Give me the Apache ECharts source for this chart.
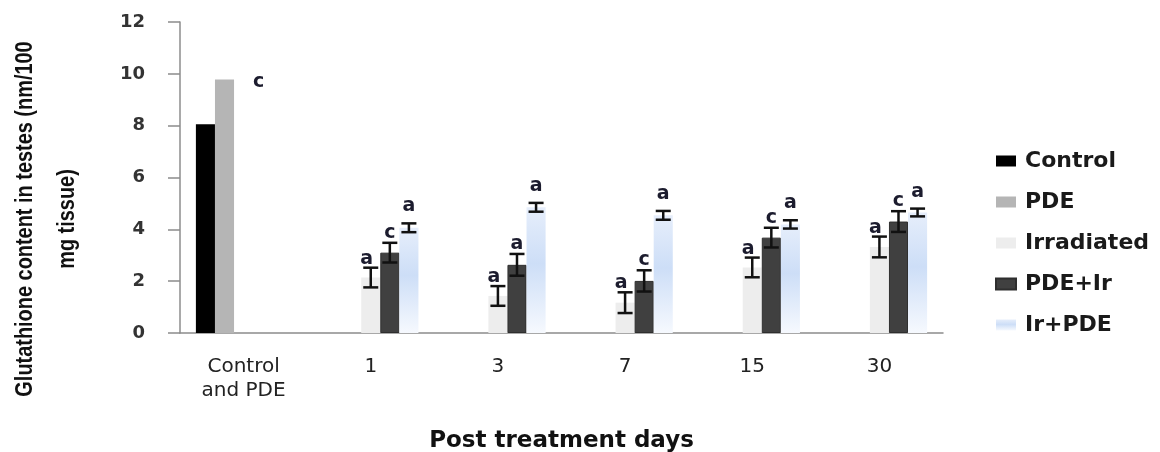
<!DOCTYPE html>
<html>
<head>
<meta charset="utf-8">
<script src="https://cdn.jsdelivr.net/npm/echarts@6/dist/echarts.min.js"></script>
<style>
  html, body { margin: 0; padding: 0; background: #ffffff; }
  #chart { width: 1160px; height: 452px; }
</style>
</head>
<body>
<div id="chart"></div>
<script>
// Glutathione content in testes by group and post-treatment day
const categories = ['Control\nand PDE', '1', '3', '7', '15', '30'];

const controlValues    = [8.05, null, null, null, null, null];
const pdeValues        = [9.78, null, null, null, null, null];
const irradiatedValues = [null, 2.14, 1.43, 1.17, 2.53, 3.32];
const irradiatedErrors = [null, 0.38, 0.38, 0.40, 0.38, 0.40];
const pdeIrValues      = [null, 3.10, 2.63, 2.01, 3.68, 4.30];
const pdeIrErrors      = [null, 0.38, 0.42, 0.41, 0.38, 0.40];
const irPdeValues      = [null, 4.06, 4.85, 4.54, 4.19, 4.65];
const irPdeErrors      = [null, 0.17, 0.17, 0.17, 0.16, 0.15];

// significance letters
const pdeLetters        = ['c', null, null, null, null, null];
const irradiatedLetters = [null, 'a', 'a', 'a', 'a', 'a'];
const pdeIrLetters      = [null, 'c', 'a', 'c', 'c', 'c'];
const irPdeLetters      = [null, 'a', 'a', 'a', 'a', 'a'];

const yTicks = { min: 0, max: 12, interval: 2 };

const SERIES_COUNT = 5;
const BAND_FILL = 0.75; // barCategoryGap 25%

const irPdeFill = new echarts.graphic.LinearGradient(0, 0, 0, 1, [
  { offset: 0, color: '#e6eefb' },
  { offset: 0.45, color: '#cddef7' },
  { offset: 1, color: '#f6f9fe' }
]);

// Error bars and letters drawn on top of the bar in a given slot of the group
function overlay(slot, values, errors, letters, letterDx, letterDy) {
  const rows = [];
  values.forEach((v, i) => {
    if (v == null) return;
    rows.push([i, v, errors ? (errors[i] || 0) : 0, letters ? (letters[i] || '') : '']);
  });
  return {
    type: 'custom',
    silent: true,
    z: 5,
    data: rows.map(r => [r[0], r[1] + r[2], r[1] - r[2]]),
    encode: { x: 0, y: [1, 2] },
    renderItem(params, api) {
      const row = rows[params.dataIndex];
      const idx = row[0], val = row[1], err = row[2], letter = row[3];
      const band = api.size([1, 0])[0];
      const bw = band * BAND_FILL / SERIES_COUNT;
      const base = api.coord([idx, val]);
      const cx = base[0] - band * BAND_FILL / 2 + bw * (slot + 0.5);
      const children = [];
      let yRef = base[1];
      if (err > 0) {
        const yTop = api.coord([idx, val + err])[1];
        const yBot = api.coord([idx, val - err])[1];
        const cap = 7.5;
        const ls = { stroke: '#111111', lineWidth: 2.5 };
        children.push(
          { type: 'line', shape: { x1: cx, y1: yTop, x2: cx, y2: yBot }, style: ls },
          { type: 'line', shape: { x1: cx - cap, y1: yTop, x2: cx + cap, y2: yTop }, style: ls },
          { type: 'line', shape: { x1: cx - cap, y1: yBot, x2: cx + cap, y2: yBot }, style: ls }
        );
        yRef = yTop;
      }
      if (letter) {
        children.push({
          type: 'text',
          x: cx + letterDx, y: yRef + letterDy,
          style: {
            text: letter, fill: '#1c1c2e',
            font: 'bold 19px "DejaVu Sans"',
            align: 'center', verticalAlign: 'middle',
            textAlign: 'center', textVerticalAlign: 'middle'
          }
        });
      }
      return { type: 'group', children };
    }
  };
}

const barBase = { type: 'bar', barGap: '0%', barCategoryGap: '25%' };

const option = {
  animation: false,
  backgroundColor: '#ffffff',
  grid: { left: 180, right: 217, top: 22, bottom: 119, containLabel: false, outerBoundsMode: 'none' },
  legend: {
    orient: 'vertical',
    left: 990, top: 145,
    itemWidth: 20, itemHeight: 11,
    itemGap: 19,
    icon: 'rect',
    selectedMode: false,
    data: ['Control', 'PDE', 'Irradiated', 'PDE+Ir', 'Ir+PDE'],
    textStyle: { fontFamily: 'DejaVu Sans', fontWeight: 'bold', fontSize: 22, color: '#1a1a1a', lineHeight: 22, padding: [0, 0, 0, 4] }
  },
  xAxis: {
    type: 'category',
    data: categories,
    name: 'Post treatment days',
    nameLocation: 'middle',
    nameGap: 97,
    nameTextStyle: { fontFamily: 'DejaVu Sans', fontWeight: 'bold', fontSize: 23, color: '#111111' },
    axisLine: { lineStyle: { color: '#8c8c8c', width: 1.5 } },
    axisTick: { length: 8, lineStyle: { color: '#8c8c8c', width: 1.5 } },
    axisLabel: { margin: 22, fontFamily: 'DejaVu Sans', fontSize: 20, lineHeight: 24, color: '#222222' },
    splitLine: { show: false }
  },
  yAxis: {
    type: 'value',
    min: yTicks.min, max: yTicks.max, interval: yTicks.interval,
    axisLine: { show: true, lineStyle: { color: '#8c8c8c', width: 1.5 } },
    axisTick: { show: true, length: 12, lineStyle: { color: '#8c8c8c', width: 1.5 } },
    axisLabel: { margin: 35, fontFamily: 'DejaVu Sans', fontWeight: 'bold', fontSize: 18, color: '#333333' },
    splitLine: { show: false }
  },
  graphic: [{
    type: 'text',
    x: 46, y: 219,
    rotation: Math.PI / 2,
    scaleX: 0.83,
    style: {
      text: 'Glutathione content in testes (nm/100\nmg tissue)',
      font: 'bold 24px "Liberation Sans"',
      fill: '#111111',
      lineHeight: 42,
      align: 'center', verticalAlign: 'middle',
      textAlign: 'center', textVerticalAlign: 'middle'
    }
  }],
  series: [
    Object.assign({}, barBase, { name: 'Control', data: controlValues, itemStyle: { color: '#000000' } }),
    Object.assign({}, barBase, { name: 'PDE', data: pdeValues, itemStyle: { color: '#b5b5b5' } }),
    Object.assign({}, barBase, { name: 'Irradiated', data: irradiatedValues, itemStyle: { color: '#ededed' } }),
    Object.assign({}, barBase, { name: 'PDE+Ir', data: pdeIrValues, itemStyle: { color: '#404040', borderColor: '#2e2e2e', borderWidth: 1 } }),
    Object.assign({}, barBase, { name: 'Ir+PDE', data: irPdeValues, itemStyle: { color: irPdeFill } }),
    overlay(1, pdeValues, null, pdeLetters, 34, 3),
    overlay(2, irradiatedValues, irradiatedErrors, irradiatedLetters, -4, -9),
    overlay(3, pdeIrValues, pdeIrErrors, pdeIrLetters, 0, -10),
    overlay(4, irPdeValues, irPdeErrors, irPdeLetters, 0, -17)
  ]
};

const chart = echarts.init(document.getElementById('chart'));
chart.setOption(option);
</script>
</body>
</html>
